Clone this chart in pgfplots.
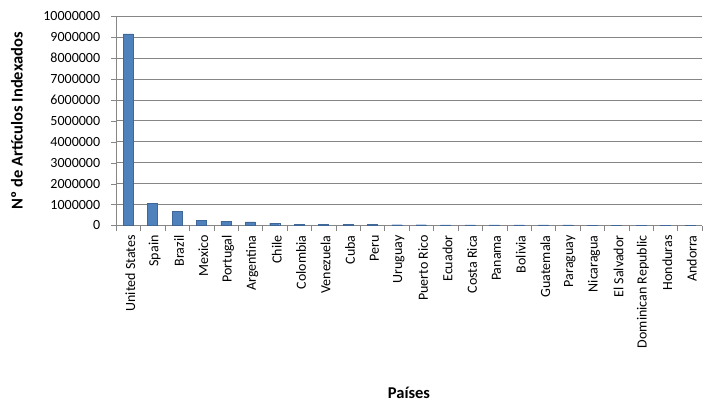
\documentclass[border=0pt]{standalone}
\usepackage{fontspec}
\setmainfont{Carlito}
\usepackage{pgfplots}
\pgfplotsset{compat=1.18}
\definecolor{barblue}{HTML}{4F81BD}
\definecolor{axisgray}{HTML}{868686}

\begin{document}
\fontsize{14pt}{16pt}\selectfont
\begin{tikzpicture}
\useasboundingbox (-116pt,-184.5pt) rectangle (596pt,225.5pt);
\begin{axis}[
    at={(0,0)}, anchor=south west,
    scale only axis,
    width=586pt, height=209.5pt,
    ybar, bar width=10pt,
    xmin=-0.5, xmax=23.5,
    ymin=0, ymax=10000000,
    ytick={0,1000000,...,10000000},
    xtick={0,...,23},
    xticklabels={United States,Spain,Brazil,Mexico,Portugal,Argentina,Chile,Colombia,Venezuela,Cuba,Peru,Uruguay,Puerto Rico,Ecuador,Costa Rica,Panama,Bolivia,Guatemala,Paraguay,Nicaragua,El Salvador,Dominican Republic,Honduras,Andorra},
    minor xtick={-0.5,0.5,...,23.5},
    major x tick style={draw=none},
    minor x tick style={draw=axisgray},
    major y tick style={draw=axisgray},
    major tick length=5pt, minor tick length=5pt,
    tick align=outside,
    axis x line*=bottom, axis y line*=left,
    axis line style={draw=axisgray, -},
    ymajorgrids, grid style={draw=axisgray, line width=0.6pt},
    scaled y ticks=false,
    yticklabel style={/pgf/number format/fixed, /pgf/number format/1000 sep={},
        /pgf/number format/assume math mode=true, xshift=-6pt},
    xticklabel style={rotate=90, anchor=east, yshift=-2pt},
    xlabel={Países},
    ylabel={Nº de Artículos Indexados},
    label style={font=\fontsize{16.5pt}{18pt}\selectfont\bfseries},
    xlabel style={at={(0.5,0)}, anchor=center, yshift=-167pt},
    every axis y label/.append style={at={(-99pt,104.75pt)}, anchor=center},
]
\addplot[fill=barblue, draw=barblue!80!black, line width=0.3pt] coordinates {
    (0,9150000) (1,1060000) (2,690000) (3,260000) (4,210000) (5,170000)
    (6,110000) (7,60000) (8,50000) (9,45000) (10,45000) (11,40000)
    (12,40000) (13,35000) (14,35000) (15,30000) (16,30000) (17,28000)
    (18,25000) (19,22000) (20,20000) (21,20000) (22,18000) (23,15000)
};
\end{axis}
\end{tikzpicture}
\end{document}
